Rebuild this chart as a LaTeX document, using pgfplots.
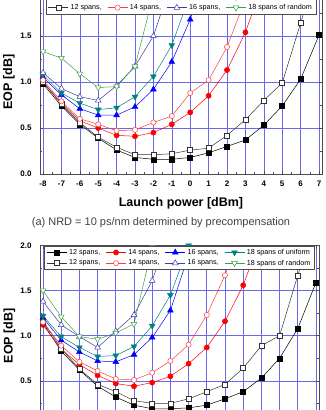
\documentclass[border=0pt]{standalone}
\usepackage{fontspec}
\setmainfont{Liberation Sans}
\usepackage{pgfplots}
\pgfplotsset{compat=1.18}
\definecolor{gridblue}{RGB}{105,105,238}
\definecolor{cteal}{RGB}{0,128,128}
\definecolor{cgreen}{RGB}{60,160,60}
\definecolor{cnavy}{RGB}{60,60,170}
\definecolor{cred}{RGB}{255,0,0}
\definecolor{cpink}{RGB}{255,60,60}
\pgfplotsset{
 eopstyle/.style={
  scale only axis, height=#1,
  ymin=0, ymax=2,
  xtick={-8,...,7}, ytick={0,0.5,...,2}, minor x tick num=1, minor y tick num=1,
  grid=major, major grid style={gridblue, line width=0.6pt},
  axis line style={black!70, line width=0.6pt},
  tick style={black!70, line width=0.5pt},
  tick align=inside, major tick length=3pt, minor tick length=2pt,
  /pgf/number format/assume math mode=true,
  ticklabel style={font=\fontsize{8}{9}\selectfont\bfseries},
  yticklabel style={/pgf/number format/fixed, /pgf/number format/fixed zerofill, /pgf/number format/precision=1, xshift=-5pt},
  xticklabel style={yshift=-3pt},
  ylabel={EOP [dB]},
  label style={font=\fontsize{12.5}{14}\selectfont\bfseries},
  xlabel style={at={(axis description cs:0.5,-0.16)}, anchor=center},
  ylabel style={at={(axis description cs:-0.11,0.5)}, anchor=center},
  legend columns=4, legend cell align=left,
  legend style={at={(0.5,0.998)}, anchor=north, font=\fontsize{7.2}{8}\selectfont,
    draw=black!70, fill=white, inner xsep=2pt, inner ysep=1pt, row sep=0pt,
    /tikz/every odd column/.append style={column sep=0pt},
    /tikz/every even column/.append style={column sep=3.5pt}},
  legend image code/.code={\draw[mark repeat=2,mark phase=2] plot coordinates {(0pt,0pt) (10pt,0pt) (20pt,0pt)};},
  every axis plot/.append style={line width=0.5pt},
 },
 sA/.style={black, mark=square*, mark size=2.5pt, mark options={fill=black, solid}},
 sB/.style={cred, mark=*, mark size=2.6pt, mark options={fill=cred, solid}},
 sC/.style={blue, mark=triangle*, mark size=3.3pt, mark options={fill=blue, solid}},
 sD/.style={cteal, mark=triangle*, mark size=3.3pt, mark options={fill=cteal, solid, rotate=180}},
 sE/.style={black!80, mark=square*, mark size=2.5pt, mark options={fill=white, solid}},
 sF/.style={cpink, mark=*, mark size=2.6pt, mark options={fill=white, solid}},
 sG/.style={cnavy, mark=triangle*, mark size=3.3pt, mark options={fill=white, solid}},
 sH/.style={cgreen, mark=triangle*, mark size=3.3pt, mark options={fill=white, solid, rotate=180}},
}
\begin{document}
\begin{tikzpicture}
\path[use as bounding box] (0pt,0pt) rectangle (326pt,-410pt);
\begin{scope}
\clip (0pt,0pt) rectangle (326pt,-410pt);
% ---------- panel (a) ----------
\begin{axis}[eopstyle=184pt, width=282pt, xmin=-8.163, xmax=7.163,
  xlabel={Launch power [dBm]},
  at={(40pt,-174pt)}, anchor=south west]
\addplot[sA] coordinates {(-8,0.98) (-7,0.74) (-6,0.54) (-5,0.39) (-4,0.26) (-3,0.18) (-2,0.16) (-1,0.16) (0,0.18) (1,0.23) (2,0.30) (3,0.37) (4,0.53) (5,0.74) (6,1.03) (7,1.51)};
\addplot[sB] coordinates {(-8,1.00) (-7,0.77) (-6,0.58) (-5,0.50) (-4,0.42) (-3,0.41) (-2,0.45) (-1,0.54) (0,0.67) (1,0.85) (2,1.13) (3,1.54) (4,2.10)};
\addplot[sC] coordinates {(-8,1.05) (-7,0.86) (-6,0.71) (-5,0.64) (-4,0.64) (-3,0.73) (-2,0.92) (-1,1.22) (0,1.68) (1,2.30)};
\addplot[sD] coordinates {(-8,1.08) (-7,0.88) (-6,0.77) (-5,0.70) (-4,0.72) (-3,0.84) (-2,1.06) (-1,1.40) (0,1.95)};
\addplot[sE] coordinates {(-8,1.00) (-7,0.76) (-6,0.56) (-5,0.40) (-4,0.29) (-3,0.21) (-2,0.21) (-1,0.22) (0,0.26) (1,0.28) (2,0.42) (3,0.59) (4,0.80) (5,0.99) (6,1.64) (7,2.30)};
\addplot[sF] coordinates {(-8,1.02) (-7,0.79) (-6,0.60) (-5,0.54) (-4,0.47) (-3,0.48) (-2,0.56) (-1,0.63) (0,0.88) (1,1.02) (2,1.38) (3,1.90)};
\addplot[sG] coordinates {(-8,1.10) (-7,0.93) (-6,0.84) (-5,0.80) (-4,0.96) (-3,1.17) (-2,1.50) (-1,2.10)};
\addplot[sH] coordinates {(-8,1.33) (-7,1.26) (-6,1.09) (-5,0.94) (-4,0.95) (-3,1.17) (-2,1.95)};
\legend{{12 spans,}, {14 spans,}, {16 spans,}, {18 spans of uniform}, {12 spans,}, {14 spans,}, {16 spans,}, {18 spans of random}}
\end{axis}
\node[font=\fontsize{11}{13}\selectfont, text=black!75] at (161pt,-223pt) {(a) NRD = 10 ps/nm determined by precompensation};
% ---------- panel (b) ----------
\begin{axis}[eopstyle=180.4pt, width=279pt, xmin=-8.165, xmax=7.165,
  xticklabels={},
  at={(40pt,-425.9pt)}, anchor=south west]
\addplot[sA] coordinates {(-8,1.14) (-7,0.83) (-6,0.62) (-5,0.44) (-4,0.32) (-3,0.23) (-2,0.19) (-1,0.19) (0,0.20) (1,0.23) (2,0.30) (3,0.38) (4,0.53) (5,0.75) (6,1.08) (7,1.59)};
\addplot[sB] coordinates {(-8,1.12) (-7,0.85) (-6,0.68) (-5,0.56) (-4,0.47) (-3,0.44) (-2,0.48) (-1,0.55) (0,0.69) (1,0.87) (2,1.16) (3,1.56) (4,2.10)};
\addplot[sC] coordinates {(-8,1.20) (-7,0.95) (-6,0.82) (-5,0.72) (-4,0.71) (-3,0.79) (-2,0.98) (-1,1.28) (0,1.90)};
\addplot[sD] coordinates {(-8,1.22) (-7,0.99) (-6,0.87) (-5,0.77) (-4,0.78) (-3,0.88) (-2,1.11) (-1,1.45) (0,2.00)};
\addplot[sE] coordinates {(-8,1.16) (-7,0.86) (-6,0.63) (-5,0.46) (-4,0.38) (-3,0.28) (-2,0.25) (-1,0.25) (0,0.30) (1,0.38) (2,0.46) (3,0.64) (4,0.89) (5,1.00) (6,1.67) (7,2.30)};
\addplot[sF] coordinates {(-8,1.15) (-7,0.89) (-6,0.71) (-5,0.61) (-4,0.52) (-3,0.51) (-2,0.59) (-1,0.72) (0,0.90) (1,1.23) (2,1.67) (3,2.20)};
\addplot[sG] coordinates {(-8,1.38) (-7,1.12) (-6,0.99) (-5,0.87) (-4,1.05) (-3,1.23) (-2,1.61) (-1,2.20)};
\addplot[sH] coordinates {(-8,1.50) (-7,1.21) (-6,0.99) (-5,0.96) (-4,1.03) (-3,1.13) (-2,1.98)};
\legend{{12 spans,}, {14 spans,}, {16 spans,}, {18 spans of uniform}, {12 spans,}, {14 spans,}, {16 spans,}, {18 spans of random}}
\end{axis}
\end{scope}
\end{tikzpicture}
\end{document}
